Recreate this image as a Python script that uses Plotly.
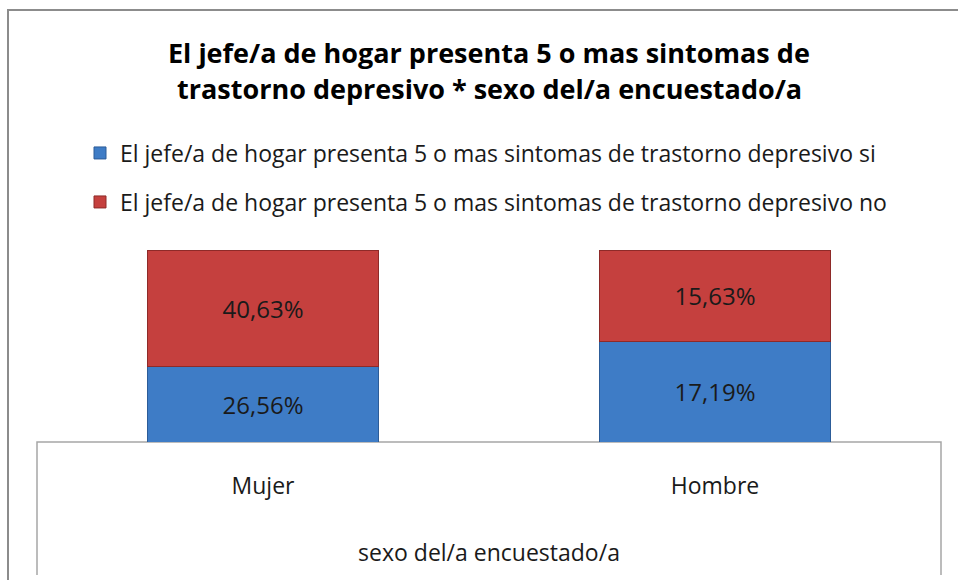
import plotly.graph_objects as go

# ---- data ----
categories = ["Mujer", "Hombre"]
si_values = [26.56, 17.19]
no_values = [40.63, 15.63]
series_names = [
    "El jefe/a de hogar presenta 5 o mas sintomas de trastorno depresivo si",
    "El jefe/a de hogar presenta 5 o mas sintomas de trastorno depresivo no",
]
title_lines = [
    "El jefe/a de hogar presenta 5 o mas sintomas de",
    "trastorno depresivo * sexo del/a encuestado/a",
]
axis_title = "sexo del/a encuestado/a"


def fmt(v):
    return f"{v:.2f}".replace(".", ",") + "%"


# ---- layout geometry (pixels) ----
W, H = 958, 580
L, R, T, B = 37, 17, 250, 138
PW, PH = W - L - R, H - T - B
FONT = "Open Sans"
TEXT = "#1a1a1a"
FS = 23


def px_x(px):
    return (px - L) / PW


def px_y(py):
    return (H - B - py) / PH


fig = go.Figure()
fig.add_trace(go.Bar(
    x=categories, y=si_values, name=series_names[0],
    text=[fmt(v) for v in si_values], textposition="inside",
    insidetextanchor="middle", textangle=0,
    textfont=dict(family=FONT, size=24, color=TEXT),
    marker=dict(color="#3E7CC6", line=dict(color="#2C5C98", width=1)),
    legend="legend",
))
fig.add_trace(go.Bar(
    x=categories, y=no_values, name=series_names[1],
    text=[fmt(v) for v in no_values], textposition="inside",
    insidetextanchor="middle", textangle=0,
    textfont=dict(family=FONT, size=24, color=TEXT),
    marker=dict(color="#C5403E", line=dict(color="#8E2A28", width=1)),
    legend="legend2",
))

annotations = [
    dict(text=f"<b>{title_lines[0]}</b>", x=0.5, y=px_y(52), xref="paper", yref="paper",
         xanchor="center", yanchor="middle", showarrow=False,
         font=dict(family=FONT, size=27, color="#000000")),
    dict(text=f"<b>{title_lines[1]}</b>", x=0.5, y=px_y(88), xref="paper", yref="paper",
         xanchor="center", yanchor="middle", showarrow=False,
         font=dict(family=FONT, size=27, color="#000000")),
]

shapes = [
    # outer chart frame
    dict(type="rect", xref="paper", yref="paper",
         x0=px_x(8), x1=px_x(1000), y0=px_y(620), y1=px_y(10),
         line=dict(color="#8C8C8C", width=2), fillcolor="rgba(0,0,0,0)", layer="below"),
    # axis box under the bars
    dict(type="path", xref="paper", yref="paper",
         path=f"M 0 {px_y(575)} L 0 0 L 1 0 L 1 {px_y(575)}",
         line=dict(color="#A6A6A6", width=1.5), layer="below"),
]

fig.update_layout(
    width=W, height=H,
    margin=dict(l=L, r=R, t=T, b=B, pad=0),
    paper_bgcolor="white", plot_bgcolor="white",
    barmode="stack", barnorm="percent", bargap=0.49,
    font=dict(family=FONT, size=FS, color=TEXT),
    showlegend=True,
    legend=dict(x=px_x(80), y=px_y(153), xanchor="left", yanchor="middle",
                bgcolor="rgba(0,0,0,0)", font=dict(family=FONT, size=FS, color=TEXT)),
    legend2=dict(x=px_x(80), y=px_y(202), xanchor="left", yanchor="middle",
                 bgcolor="rgba(0,0,0,0)", font=dict(family=FONT, size=FS, color=TEXT)),
    xaxis=dict(showgrid=False, zeroline=False, showline=False, ticks="",
               ticklabelstandoff=28,
               tickfont=dict(family=FONT, size=FS, color=TEXT),
               title=dict(text=axis_title, standoff=44,
                          font=dict(family=FONT, size=FS, color=TEXT))),
    yaxis=dict(visible=False, range=[0, 100]),
    annotations=annotations,
    shapes=shapes,
    uniformtext=dict(mode=False),
)

fig.write_html("out.html", config={"displayModeBar": False},
               post_script="document.body.style.margin='0';")
